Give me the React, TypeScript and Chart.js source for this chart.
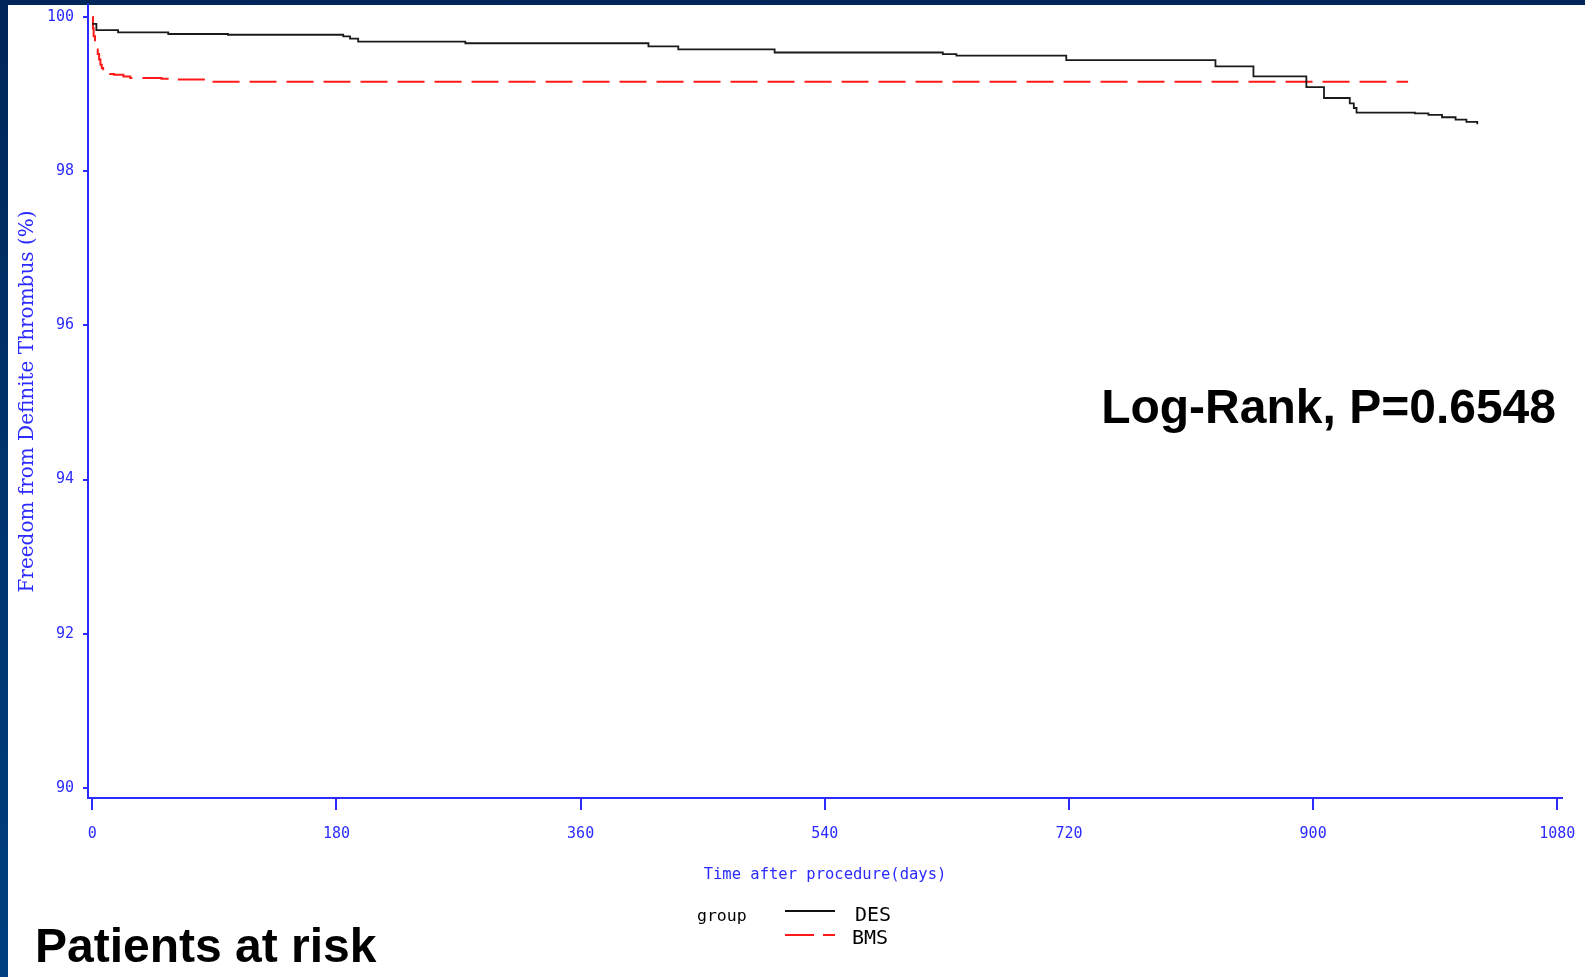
import React, { useEffect, useRef } from "react";
import { Chart, registerables } from "chart.js";

Chart.register(...registerables);

// ---- data ----
const desDays = [0, 3, 19, 56, 100, 185, 190, 196, 275, 410, 432, 503, 627, 637, 718, 828, 856, 895, 908, 927, 930, 932, 975, 985, 995, 1005, 1013, 1021];
const desSurv = [99.91, 99.83, 99.8, 99.78, 99.77, 99.75, 99.72, 99.68, 99.66, 99.62, 99.58, 99.54, 99.52, 99.5, 99.44, 99.36, 99.23, 99.09, 98.95, 98.88, 98.82, 98.76, 98.75, 98.73, 98.7, 98.67, 98.64, 98.61];

const bmsDays = [0, 0.5, 1, 2, 3, 4, 5, 6, 7, 8, 10, 13, 16, 23, 28, 51, 60, 87, 970];
const bmsSurv = [100, 99.85, 99.75, 99.66, 99.58, 99.52, 99.45, 99.38, 99.34, 99.31, 99.28, 99.26, 99.25, 99.23, 99.21, 99.2, 99.19, 99.16, 99.16];

const xTickValues = [0, 180, 360, 540, 720, 900, 1080];
const yTickValues = [90, 92, 94, 96, 98, 100];

const seriesNames = ["DES", "BMS"];
const legendTitle = "group";
const xTitle = "Time after procedure(days)";
const yTitle = "Freedom from Definite Thrombus (%)";
const logRankText = "Log-Rank, P=0.6548";
const riskTitle = "Patients at risk";

const BLUE = "#2b2bff";
const W = 1585;
const H = 977;

const overlayPlugin = {
  id: "overlay",
  afterDraw(chart: any) {
    const ctx = chart.ctx as CanvasRenderingContext2D;
    ctx.save();
    ctx.fillStyle = "#000";
    ctx.font = 'bold 48px "Liberation Sans", Arial, sans-serif';
    ctx.textBaseline = "alphabetic";
    ctx.textAlign = "right";
    ctx.fillText(logRankText, 1556, 423);
    ctx.textAlign = "left";
    ctx.fillText(riskTitle, 35, 962);

    // legend
    ctx.font = '16.5px "DejaVu Sans Mono", monospace';
    ctx.fillText(legendTitle, 697, 921);
    ctx.font = '20px "DejaVu Sans Mono", monospace';
    ctx.fillText(seriesNames[0], 855, 921);
    ctx.fillText(seriesNames[1], 852, 944);

    ctx.lineCap = "butt";
    ctx.lineWidth = 1.8;
    ctx.strokeStyle = "#111";
    ctx.beginPath();
    ctx.moveTo(785, 911);
    ctx.lineTo(835, 911);
    ctx.stroke();

    ctx.strokeStyle = "#ff1a1a";
    ctx.lineWidth = 2;
    ctx.beginPath();
    ctx.moveTo(785, 935);
    ctx.lineTo(814, 935);
    ctx.moveTo(823, 935);
    ctx.lineTo(835, 935);
    ctx.stroke();
    ctx.restore();
  },
};

export default function App() {
  const ref = useRef<HTMLCanvasElement | null>(null);

  useEffect(() => {
    if (!ref.current) return;
    const chart = new Chart(ref.current, {
      type: "line",
      data: {
        datasets: [
          {
            label: seriesNames[0],
            data: desDays.map((d, i) => ({ x: d, y: desSurv[i] })),
            borderColor: "#1a1a1a",
            borderWidth: 1.8,
            stepped: "before",
            pointRadius: 0,
            fill: false,
          },
          {
            label: seriesNames[1],
            data: bmsDays.map((d, i) => ({ x: d, y: bmsSurv[i] })),
            borderColor: "#ff1a1a",
            borderWidth: 2,
            borderDash: [27, 10],
            borderCapStyle: "butt",
            stepped: "before",
            pointRadius: 0,
            fill: false,
          },
        ],
      },
      options: {
        responsive: false,
        animation: false,
        devicePixelRatio: 1,
        layout: { padding: { left: 0, top: 5, right: 23, bottom: 0 } },
        plugins: {
          legend: { display: false },
          tooltip: { enabled: false },
        },
        scales: {
          x: {
            type: "linear",
            min: -3.17,
            max: 1083.46,
            afterBuildTicks: (scale: any) => {
              scale.ticks = xTickValues.map((v) => ({ value: v }));
            },
            afterFit: (scale: any) => {
              scale.height = H - 798;
              scale.paddingLeft = 0;
              scale.paddingRight = 0;
            },
            ticks: {
              color: BLUE,
              font: { family: '"DejaVu Sans Mono", monospace', size: 15 },
              padding: 15,
              maxRotation: 0,
              autoSkip: false,
              callback: (v: any) => String(v),
            },
            grid: {
              drawOnChartArea: false,
              drawTicks: true,
              tickLength: 12,
              color: BLUE,
              lineWidth: 2,
            },
            border: { display: true, color: BLUE, width: 2 },
            title: {
              display: true,
              text: xTitle,
              color: BLUE,
              font: { family: '"DejaVu Sans Mono", monospace', size: 15.5, lineHeight: 1.2 },
              padding: { top: 0, bottom: 92.7 },
            },
          },
          y: {
            type: "linear",
            min: 89.87,
            max: 100.156,
            afterBuildTicks: (scale: any) => {
              scale.ticks = yTickValues.map((v) => ({ value: v }));
            },
            afterFit: (scale: any) => {
              scale.width = 88;
              scale.paddingTop = 0;
              scale.paddingBottom = 0;
            },
            ticks: {
              color: BLUE,
              font: { family: '"DejaVu Sans Mono", monospace', size: 15 },
              padding: 9,
              callback: (v: any) => String(v),
            },
            grid: {
              drawOnChartArea: false,
              drawTicks: true,
              tickLength: 5,
              color: BLUE,
              lineWidth: 2,
            },
            border: { display: true, color: BLUE, width: 2 },
            title: {
              display: true,
              text: yTitle,
              color: BLUE,
              font: { family: '"DejaVu Serif", serif', size: 20, lineHeight: 1.2 },
              padding: { top: 16, bottom: 0 },
            },
          },
        },
      },
      plugins: [overlayPlugin],
    } as any);
    return () => chart.destroy();
  }, []);

  return (
    <div
      style={{
        position: "fixed",
        left: 0,
        top: 0,
        width: W,
        height: H,
        background: "linear-gradient(to bottom, #00265a, #00407f)",
        overflow: "hidden",
      }}
    >
      <div
        style={{
          position: "absolute",
          left: 8,
          top: 5,
          right: 0,
          bottom: 0,
          background: "#ffffff",
        }}
      />
      <canvas
        ref={ref}
        width={W}
        height={H}
        style={{ position: "absolute", left: 0, top: 0, width: W, height: H }}
      />
    </div>
  );
}
